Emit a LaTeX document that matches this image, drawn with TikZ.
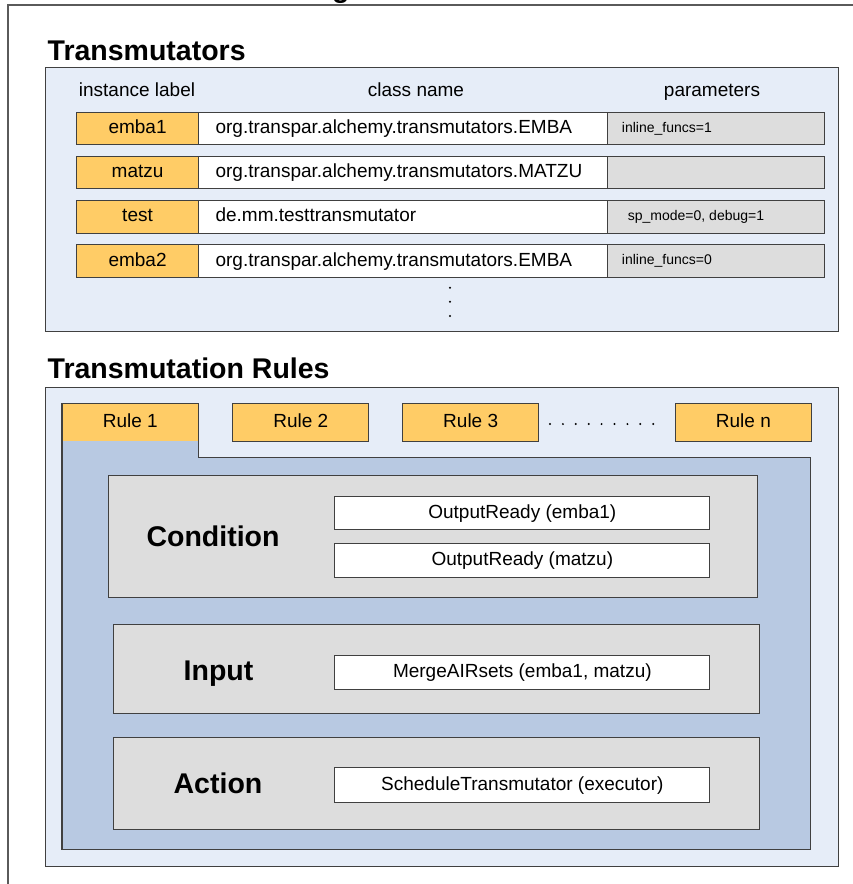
\documentclass[tikz,border=0pt]{standalone}
\usepackage{fontspec}
\setmainfont{Liberation Sans}
\definecolor{paleblue}{HTML}{E6EDF8}
\definecolor{panelblue}{HTML}{B8C9E2}
\definecolor{amber}{HTML}{FFCC66}
\definecolor{cellgray}{HTML}{DDDDDD}
\definecolor{edge}{HTML}{404040}
\definecolor{framegray}{HTML}{5A5A5A}
\newcommand\rowfont{\fontsize{19}{22}\selectfont}
\newcommand\prmfont{\fontsize{14}{16}\selectfont}
\newcommand\headfont{\fontsize{28.5}{32}\selectfont\bfseries}
\begin{document}
\begin{tikzpicture}[x=1pt,y=-1pt,
  box/.style={draw=edge, line width=1.1pt, inner sep=0pt, anchor=north west},
  wh/.style 2 args={minimum width=#1pt, minimum height=#2pt},
  rowtxt/.style={font=\rowfont, text height=13.5pt, text depth=3.5pt},
  prmtxt/.style={font=\prmfont, inner sep=0pt, text height=10pt, text depth=3pt, anchor=west},
  bigtxt/.style={font=\headfont, inner sep=0pt, text height=20.4pt, text depth=0pt},
  ttl/.style={font=\headfont, inner sep=0pt, anchor=base west},
  dotmark/.style={fill=black, draw=none}
]
\useasboundingbox (0,0) rectangle (853,884);
\clip (0,0) rectangle (853,884);

% page frame and the heading above it
\node[ttl] (pagetitle) at (332,-3) {g};
\draw[framegray, line width=1.5pt] (8,5) rectangle (900,950);

% ---------------- Transmutators ----------------
\node[ttl] (ttrans) at (47.5,60) {Transmutators};
\node[box, fill=paleblue, wh={793}{264}] (tbox) at (45,67) {};

\node[rowtxt, inner sep=0pt] (hlabel) at (137,91) {instance label};
\node[rowtxt, inner sep=0pt] (hclass) at (416,91) {class name};
\node[rowtxt, inner sep=0pt] (hparam) at (712,91) {parameters};

\foreach \ty/\lab/\cls/\prm/\po [count=\i] in {
  111.7/emba1/org.transpar.alchemy.transmutators.EMBA/inline\_funcs=1/15,
  155.7/matzu/org.transpar.alchemy.transmutators.MATZU//15,
  200/test/de.mm.testtransmutator/{sp\_mode=0, debug=1}/21,
  244.3/emba2/org.transpar.alchemy.transmutators.EMBA/inline\_funcs=0/15}{
  \node[box, fill=amber, wh={122.6}{32.6}, rowtxt] (lab\i) at (75.7,\ty) {\lab};
  \node[box, fill=white, wh={408.4}{32.6}, rowtxt, text width=375pt, align=left] (cls\i) at (198.3,\ty) {\cls};
  \node[box, fill=cellgray, wh={217.6}{32.6}] (par\i) at (606.7,\ty) {};
  \node[prmtxt, xshift=\po pt] (prm\i) at (par\i.west) {\prm};
}

\foreach \dy [count=\j] in {287.7,301.7,316}
  \fill[dotmark] (450,\dy) circle (1.15pt) coordinate (vdot\j);

% ---------------- Transmutation Rules ----------------
\node[ttl] (trules) at (47.5,378.3) {Transmutation Rules};
\node[box, fill=paleblue, wh={793.3}{479.3}] (rbox) at (45,386.7) {};

% panel of the selected rule, joined to its tab
\fill[panelblue] (62,403.3) -- (198.3,403.3) -- (198.3,457.7) -- (810.7,457.7)
  -- (810.7,849.3) -- (62,849.3) -- cycle;
\node[fill=amber, inner sep=0pt, anchor=north west, wh={136.3}{37.7}, rowtxt] (rule1) at (62,403.3) {Rule 1};
\draw[edge, line width=1.1pt] (62,403.3) -- (198.3,403.3) -- (198.3,457.7) -- (810.7,457.7)
  -- (810.7,849.3) -- (62,849.3) -- cycle;

\node[box, fill=amber, wh={136}{37.7}, rowtxt] (rule2) at (232.3,403.3) {Rule 2};
\node[box, fill=amber, wh={135.7}{37.7}, rowtxt] (rule3) at (402.3,403.3) {Rule 3};
\node[box, fill=amber, wh={135.7}{37.7}, rowtxt] (rulen) at (675,403.3) {Rule n};
\foreach \k in {0,...,8}
  \fill[dotmark] (550+12.9*\k,424) circle (1.1pt);

% Condition
\node[box, fill=cellgray, wh={648.7}{122.3}] (cond) at (108,475) {};
\node[bigtxt] (condlbl) at (213,536) {Condition};
\node[box, fill=white, wh={375}{33.6}, rowtxt] (oready1) at (334.3,495.7) {OutputReady (emba1)};
\node[box, fill=white, wh={375}{34.6}, rowtxt] (oready2) at (334.3,542.7) {OutputReady (matzu)};

% Input
\node[box, fill=cellgray, wh={646}{89}] (inp) at (113.3,624.3) {};
\node[bigtxt] (inplbl) at (218.5,670) {Input};
\node[box, fill=white, wh={375}{34.3}, rowtxt] (merge) at (334.3,655) {MergeAIRsets (emba1, matzu)};

% Action
\node[box, fill=cellgray, wh={646}{92}] (act) at (113.3,736.7) {};
\node[bigtxt] (actlbl) at (218,783.5) {Action};
\node[box, fill=white, wh={375}{34.4}, rowtxt] (sched) at (334.3,767.3) {ScheduleTransmutator (executor)};
\end{tikzpicture}
\end{document}
